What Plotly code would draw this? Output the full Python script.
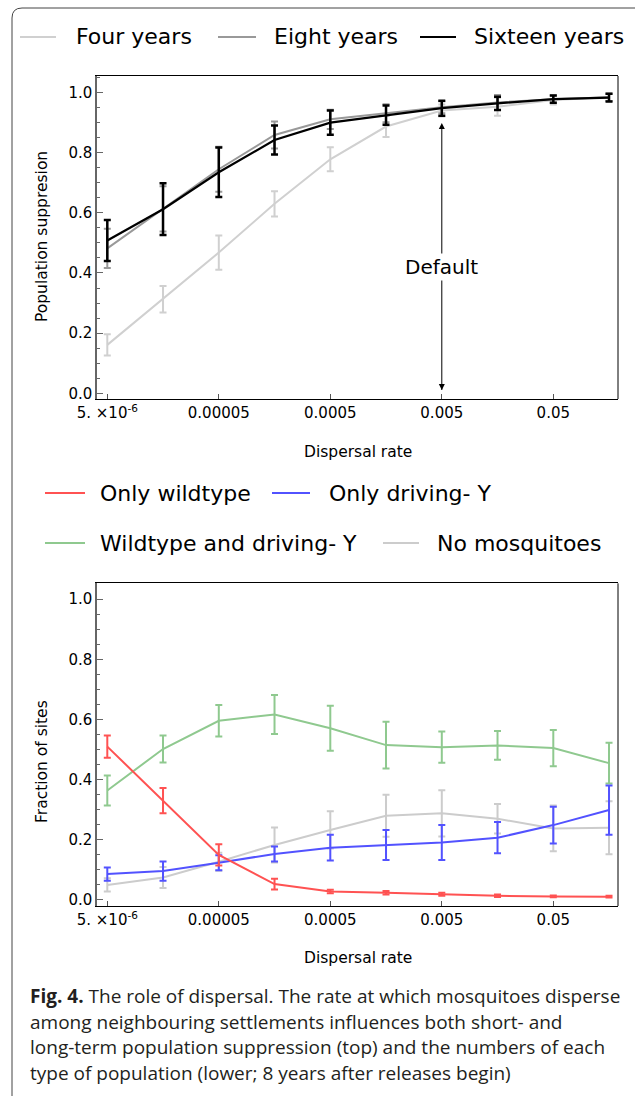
import numpy as np
import plotly.graph_objects as go

W, H = 635, 1096

# ---------------- data ----------------
dispersal = [5e-6, 1.58e-5, 5e-5, 1.58e-4, 5e-4, 1.58e-3, 5e-3, 1.58e-2, 5e-2, 1.58e-1]
tick_vals = [5e-6, 5e-5, 5e-4, 5e-3, 5e-2]
tick_text = ["5. ×10<sup>-6</sup>", "0.00005", "0.0005", "0.005", "0.05"]

four_years = [0.161, 0.313, 0.468, 0.630, 0.778, 0.887, 0.940, 0.953, 0.975, 0.984]
four_err = [0.035, 0.044, 0.057, 0.042, 0.040, 0.035, 0.020, 0.030, 0.015, 0.013]
eight_years = [0.482, 0.613, 0.745, 0.859, 0.911, 0.931, 0.951, 0.967, 0.978, 0.984]
eight_err = [0.065, 0.075, 0.075, 0.045, 0.032, 0.030, 0.020, 0.025, 0.012, 0.012]
sixteen_years = [0.508, 0.612, 0.735, 0.842, 0.900, 0.925, 0.948, 0.964, 0.978, 0.983]
sixteen_err = [0.068, 0.086, 0.082, 0.048, 0.040, 0.032, 0.025, 0.022, 0.012, 0.013]

only_wildtype = [0.510, 0.330, 0.150, 0.053, 0.028, 0.024, 0.019, 0.014, 0.012, 0.011]
only_wildtype_err = [0.037, 0.042, 0.035, 0.018, 0.006, 0.006, 0.005, 0.004, 0.003, 0.003]
only_driving = [0.086, 0.096, 0.124, 0.153, 0.174, 0.183, 0.191, 0.207, 0.249, 0.299]
only_driving_err = [0.022, 0.032, 0.025, 0.025, 0.043, 0.050, 0.058, 0.052, 0.061, 0.082]
wild_and_driving = [0.364, 0.502, 0.596, 0.617, 0.571, 0.515, 0.508, 0.514, 0.505, 0.455]
wild_and_driving_err = [0.050, 0.045, 0.052, 0.065, 0.075, 0.078, 0.052, 0.048, 0.060, 0.068]
no_mosquitoes = [0.050, 0.075, 0.127, 0.183, 0.233, 0.280, 0.288, 0.270, 0.238, 0.240]
no_mosquitoes_err = [0.022, 0.035, 0.030, 0.058, 0.062, 0.070, 0.077, 0.049, 0.076, 0.088]

default_rate = 0.005
default_arrow_y = [0.011, 0.899]
default_label_y = 0.42

caption_lines = [
    "<b>Fig. 4.</b> The role of dispersal. The rate at which mosquitoes disperse",
    "among neighbouring settlements influences both short- and",
    "long-term population suppression (top) and the numbers of each",
    "type of population (lower; 8 years after releases begin)",
]

# ---------------- style ----------------
FONT = "DejaVu Sans"
C_FOUR, C_EIGHT, C_SIXTEEN = "#d0d0d0", "#999999", "#000000"
C_RED, C_BLUE, C_GREEN, C_GRAY = "#ff5252", "#5252ff", "#8fc98f", "#cccccc"


def px(x):
    return x / W


def py(y):
    return 1 - y / H


fig = go.Figure()


def add_series(y, err, color, xa, ya, width=2, ethick=2):
    fig.add_trace(go.Scatter(
        x=dispersal, y=y, mode="lines", xaxis=xa, yaxis=ya,
        line=dict(color=color, width=width),
        error_y=dict(type="data", array=err, visible=True, color=color,
                     thickness=ethick, width=3.5),
        showlegend=False, hoverinfo="skip"))


add_series(four_years, four_err, C_FOUR, "x", "y")
add_series(eight_years, eight_err, C_EIGHT, "x", "y")
add_series(sixteen_years, sixteen_err, C_SIXTEEN, "x", "y", width=2.2, ethick=2.5)

# "Default" double-headed arrow as a trace with arrow markers
fig.add_trace(go.Scatter(
    x=[default_rate, default_rate], y=default_arrow_y, mode="lines+markers",
    xaxis="x", yaxis="y", line=dict(color="#000", width=1),
    marker=dict(symbol=["arrow-down", "arrow-up"], size=6, color="#000",
                line=dict(width=0)),
    showlegend=False, hoverinfo="skip"))

add_series(wild_and_driving, wild_and_driving_err, C_GREEN, "x2", "y2")
add_series(no_mosquitoes, no_mosquitoes_err, C_GRAY, "x2", "y2")
add_series(only_driving, only_driving_err, C_BLUE, "x2", "y2")
add_series(only_wildtype, only_wildtype_err, C_RED, "x2", "y2")

x_dom = [px(97), px(618)]
x_rng = [-5.3934, -0.7208]

xcommon = dict(type="log", range=x_rng, domain=x_dom, tickvals=tick_vals, ticktext=tick_text,
               ticks="inside", ticklen=5, tickcolor="#555", showline=True, linecolor="#000",
               linewidth=1, mirror=True, showgrid=False, zeroline=False, automargin=False,
               tickfont=dict(family=FONT, size=15, color="#000"))
ycommon = dict(dtick=0.2, tick0=0, tickformat=".1f", ticks="inside", ticklen=6, tickcolor="#666",
               showline=True, linecolor="#666", linewidth=1.5, mirror=False, showgrid=False,
               zeroline=False, automargin=False,
               minor=dict(dtick=0.05, ticks="inside", ticklen=3, tickcolor="#666"),
               tickfont=dict(family=FONT, size=15, color="#000"))

fig.update_layout(
    width=W, height=H,
    margin=dict(l=0, r=0, t=0, b=0),
    paper_bgcolor="white", plot_bgcolor="white",
    font=dict(family=FONT, color="#000"),
    showlegend=False,
    xaxis=dict(anchor="y", **xcommon),
    yaxis=dict(anchor="x", domain=[py(399), py(76)], range=[-0.019, 1.055], **ycommon),
    xaxis2=dict(anchor="y2", **xcommon),
    yaxis2=dict(anchor="x2", domain=[py(906), py(583.3)], range=[-0.02, 1.053], **ycommon),
)

shapes = []
annotations = []

# right frame edges (black)
for xr, yr in (("x domain", "y domain"), ("x2 domain", "y2 domain")):
    shapes.append(dict(type="line", xref=xr, yref=yr, x0=1, x1=1, y0=0, y1=1,
                       line=dict(color="#000", width=1)))

# outer rounded frame
x0, yt, r = px(12), py(8), 10
frame_path = (f"M {x0},{py(1110)} L {x0},{py(8 + r)} Q {x0},{yt} {px(12 + r)},{yt} "
              f"L {px(650)},{yt}")
shapes.append(dict(type="path", xref="paper", yref="paper", path=frame_path,
                   line=dict(color="#444", width=1)))

# legends (drawn manually for exact placement)
legend_top = [("Four years", C_FOUR, 20, 56, 74), ("Eight years", C_EIGHT, 218, 256, 272),
              ("Sixteen years", C_SIXTEEN, 420, 456, 472)]
legend_bottom = [("Only wildtype", C_RED, 45, 85, 98, 493), ("Only driving- Y", C_BLUE, 272, 310, 327, 493),
                 ("Wildtype and driving- Y", C_GREEN, 45, 85, 98, 543),
                 ("No mosquitoes", C_GRAY, 383, 419, 435, 543)]
for name, col, a, b, t in legend_top:
    shapes.append(dict(type="line", xref="paper", yref="paper", x0=px(a), x1=px(b),
                       y0=py(37), y1=py(37), line=dict(color=col, width=2)))
    annotations.append(dict(text=name, xref="paper", yref="paper", x=px(t), y=py(36),
                            xanchor="left", yanchor="middle", showarrow=False,
                            font=dict(family=FONT, size=22, color="#000")))
for name, col, a, b, t, yy in legend_bottom:
    shapes.append(dict(type="line", xref="paper", yref="paper", x0=px(a), x1=px(b),
                       y0=py(yy), y1=py(yy), line=dict(color=col, width=2)))
    annotations.append(dict(text=name, xref="paper", yref="paper", x=px(t), y=py(yy),
                            xanchor="left", yanchor="middle", showarrow=False,
                            font=dict(family=FONT, size=22, color="#000")))

# axis titles
annotations += [
    dict(text="Population suppresion", xref="paper", yref="paper", x=px(42), y=py(237),
         textangle=-90, showarrow=False, xanchor="center", yanchor="middle",
         font=dict(family=FONT, size=15.5, color="#000")),
    dict(text="Dispersal rate", xref="paper", yref="paper", x=px(358), y=py(452),
         showarrow=False, xanchor="center", yanchor="middle",
         font=dict(family=FONT, size=15.5, color="#000")),
    dict(text="Fraction of sites", xref="paper", yref="paper", x=px(42), y=py(762),
         textangle=-90, showarrow=False, xanchor="center", yanchor="middle",
         font=dict(family=FONT, size=15.5, color="#000")),
    dict(text="Dispersal rate", xref="paper", yref="paper", x=px(358), y=py(958),
         showarrow=False, xanchor="center", yanchor="middle",
         font=dict(family=FONT, size=15.5, color="#000")),
]

# "Default" label (white background breaks the arrow line)
lx = float(np.log10(default_rate))
annotations.append(dict(x=lx, y=default_label_y, xref="x", yref="y", text="Default", showarrow=False,
                        bgcolor="white", borderpad=1, xanchor="center", yanchor="middle",
                        font=dict(family=FONT, size=20, color="#000")))

# caption
for i, line in enumerate(caption_lines):
    annotations.append(dict(text=line, xref="paper", yref="paper", x=px(28), y=py(996 + 25.7 * i),
                            xanchor="left", yanchor="middle", showarrow=False,
                            font=dict(family="Open Sans", size=19, color="#231f20")))

fig.update_layout(shapes=shapes, annotations=annotations)
fig.write_html("out.html")
